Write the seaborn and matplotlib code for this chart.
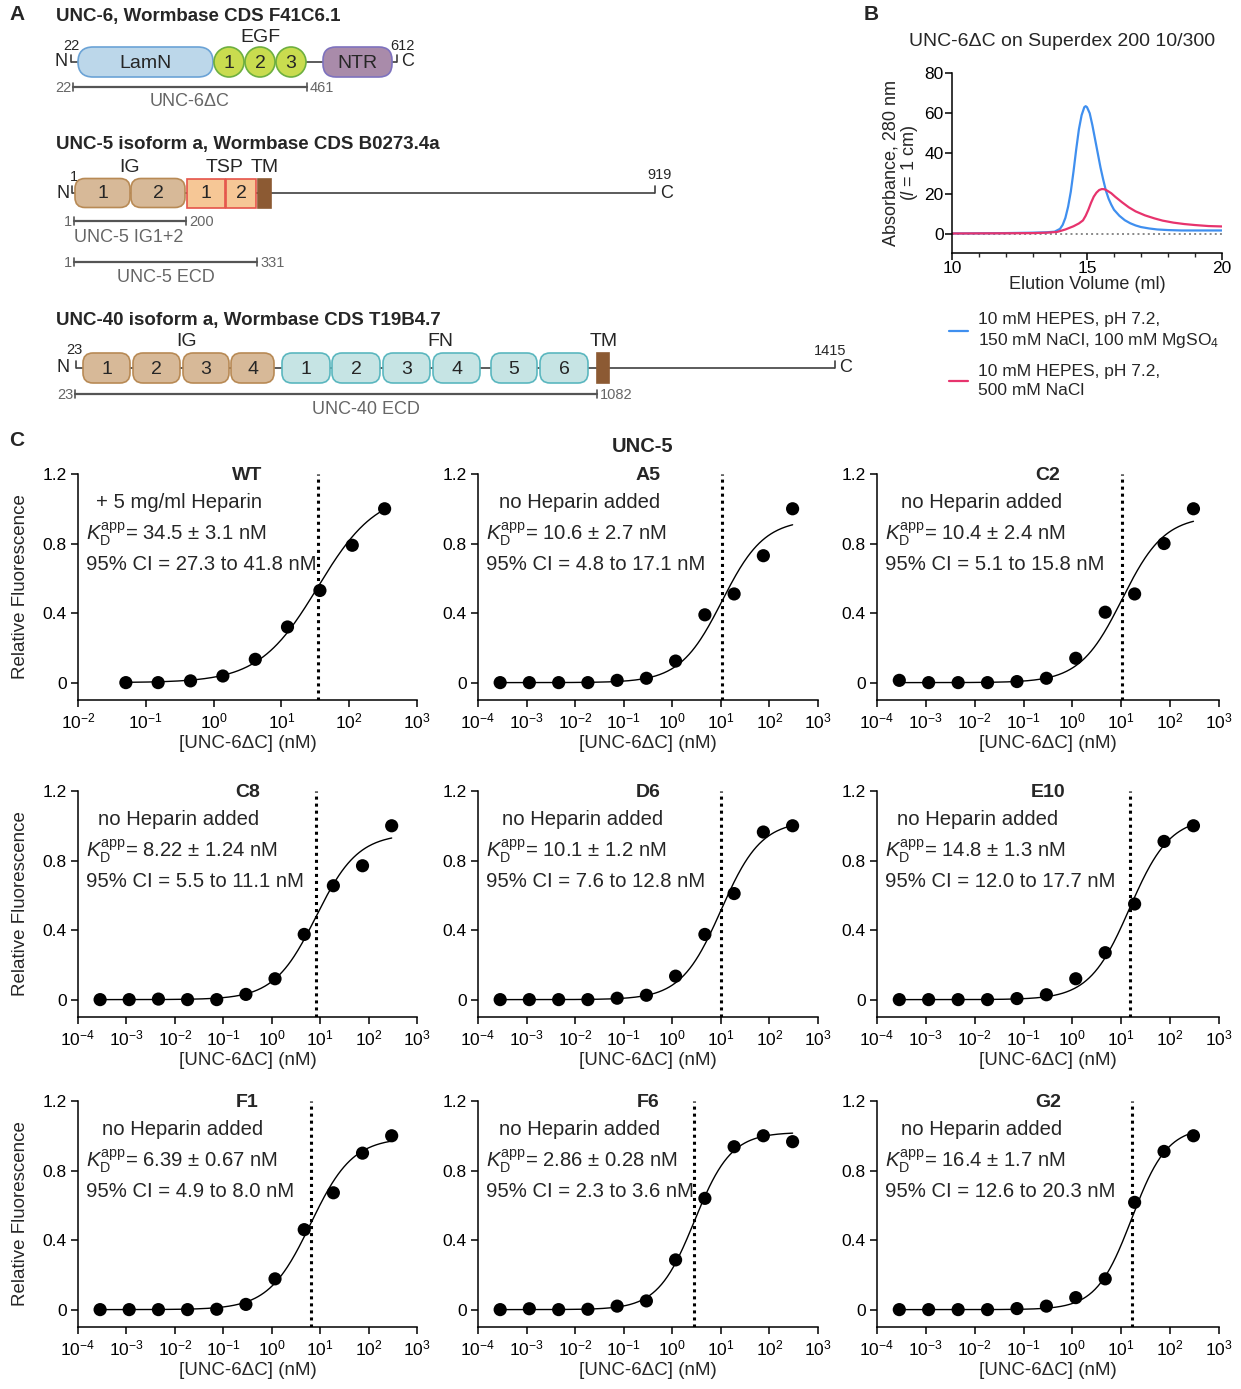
import numpy as np
import pandas as pd
import matplotlib
matplotlib.use('Agg')
import matplotlib.pyplot as plt
import seaborn as sns
from matplotlib.patches import FancyBboxPatch, Circle, Rectangle
from matplotlib.ticker import FixedLocator, NullLocator, FuncFormatter, MultipleLocator

sns.set_theme(style='ticks')
plt.rcParams['font.family'] = ['Liberation Sans', 'DejaVu Sans']
plt.rcParams['mathtext.fontset'] = 'custom'
plt.rcParams['mathtext.rm'] = 'Liberation Sans'
plt.rcParams['mathtext.it'] = 'Liberation Sans:italic'
plt.rcParams['mathtext.bf'] = 'Liberation Sans:bold'
plt.rcParams['axes.unicode_minus'] = False

# ---------------- data: panel B (size exclusion) ----------------
sec_vol_blue = [10.0, 11.0, 12.0, 12.5, 13.0, 13.5, 13.8, 14.0, 14.1, 14.2, 14.3, 14.4, 14.5, 14.6,
                14.7, 14.8, 14.9, 14.95, 15.0, 15.1, 15.2, 15.3, 15.4, 15.5, 15.6, 15.7, 15.8, 15.9,
                16.0, 16.2, 16.4, 16.6, 16.8, 17.0, 17.3, 17.6, 18.0, 18.5, 19.0, 20.0]
sec_abs_blue = [0.2, 0.3, 0.4, 0.5, 0.6, 0.8, 1.1, 2.5, 4.5, 8.0, 13.5, 21.0, 31.0, 42.0,
                52.0, 59.0, 63.0, 63.5, 63.0, 60.0, 54.0, 47.0, 40.0, 33.0, 27.0, 21.5, 17.5, 14.5,
                12.0, 9.0, 6.8, 5.3, 4.2, 3.4, 2.7, 2.2, 1.9, 1.7, 1.7, 1.7]
sec_vol_red = [10.0, 12.0, 13.0, 13.5, 13.9, 14.2, 14.5, 14.7, 14.85, 14.95, 15.05, 15.15, 15.25,
               15.35, 15.45, 15.55, 15.65, 15.75, 15.9, 16.05, 16.3, 16.55, 16.8, 17.15, 17.5,
               17.8, 18.2, 18.6, 19.0, 19.5, 20.0]
sec_abs_red = [0.2, 0.3, 0.4, 0.6, 1.0, 2.2, 3.8, 5.2, 6.7, 9.0, 12.0, 15.5, 18.5,
               20.5, 21.8, 22.3, 22.2, 21.5, 20.2, 18.4, 15.7, 13.2, 11.2, 9.2, 7.7,
               6.6, 5.6, 4.9, 4.4, 3.9, 3.7]
buffer_labels = ['10 mM HEPES, pH 7.2,\n150 mM NaCl, 100 mM MgSO$_4$',
                 '10 mM HEPES, pH 7.2,\n500 mM NaCl']

# ---------------- data: panel C (binding) ----------------
conc_wt = [0.0508, 0.152, 0.457, 1.37, 4.12, 12.3, 37.0, 111.0, 333.0]
conc_mut = [0.000286, 0.00114, 0.00458, 0.0183, 0.0732, 0.293, 1.17, 4.69, 18.75, 75.0, 300.0]
panel_names = ['WT', 'A5', 'C2', 'C8', 'D6', 'E10', 'F1', 'F6', 'G2']
heparin_labels = ['+ 5 mg/ml Heparin'] + ['no Heparin added'] * 8
kd_values = [34.5, 10.6, 10.4, 8.22, 10.1, 14.8, 6.39, 2.86, 16.4]
kd_texts = ['34.5 ± 3.1', '10.6 ± 2.7', '10.4 ± 2.4', '8.22 ± 1.24', '10.1 ± 1.2',
            '14.8 ± 1.3', '6.39 ± 0.67', '2.86 ± 0.28', '16.4 ± 1.7']
ci_texts = ['27.3 to 41.8', '4.8 to 17.1', '5.1 to 15.8', '5.5 to 11.1', '7.6 to 12.8',
            '12.0 to 17.7', '4.9 to 8.0', '2.3 to 3.6', '12.6 to 20.3']
bmax_values = [1.10, 0.94, 0.96, 0.955, 1.03, 1.05, 0.99, 1.02, 1.05]
hill_values = [1.0, 1.0, 1.0, 1.0, 1.05, 1.05, 1.0, 1.15, 1.2]
fluor_wt = [0, 0, 0.01, 0.038, 0.134, 0.32, 0.53, 0.79, 1.0]
fluor_a5 = [0, 0, 0, 0, 0.013, 0.025, 0.124, 0.39, 0.51, 0.73, 1.0]
fluor_c2 = [0.013, 0, 0, 0, 0.006, 0.025, 0.14, 0.405, 0.51, 0.80, 1.0]
fluor_c8 = [0, 0, 0.003, 0, 0, 0.03, 0.12, 0.375, 0.655, 0.77, 1.0]
fluor_d6 = [0, 0, 0, 0, 0.008, 0.025, 0.135, 0.375, 0.61, 0.964, 1.0]
fluor_e10 = [0, 0, 0, 0, 0.006, 0.028, 0.12, 0.27, 0.55, 0.91, 1.0]
fluor_f1 = [0, 0, 0, 0, 0.002, 0.03, 0.177, 0.46, 0.672, 0.90, 1.0]
fluor_f6 = [0, 0.005, 0, 0.002, 0.02, 0.05, 0.286, 0.64, 0.937, 1.0, 0.966]
fluor_g2 = [0, 0, 0, 0, 0.006, 0.02, 0.069, 0.177, 0.617, 0.91, 1.0]
fluor_all = [fluor_wt, fluor_a5, fluor_c2, fluor_c8, fluor_d6, fluor_e10, fluor_f1, fluor_f6, fluor_g2]

# ---------------- figure ----------------
W, H = 1241, 1389
fig = plt.figure(figsize=(W / 100, H / 100), dpi=100)
fig.patch.set_facecolor('white')

# overlay axes in pixel coordinates (panel A diagrams and labels)
ov = fig.add_axes([0, 0, 1, 1], zorder=5)
ov.set_xlim(0, W)
ov.set_ylim(H, 0)
ov.axis('off')
ov.patch.set_visible(False)

GRAY = '#666666'
LINE = '#404040'


def txt(x, y, s, fs=13, ha='left', va='center', **kw):
    ov.text(x, y, s, fontsize=fs, ha=ha, va=va, **kw)


def dom(x0, x1, yc, h, fc, ec, r, label=None, fs=14, lw=1.2):
    p = FancyBboxPatch((x0, yc - h / 2), x1 - x0, h,
                       boxstyle=f'round,pad=0,rounding_size={r}',
                       fc=fc, ec=ec, lw=lw, zorder=3)
    ov.add_patch(p)
    if label:
        ov.text((x0 + x1) / 2, yc + 1, label, fontsize=fs, ha='center', va='center', zorder=4)


def rect(x0, x1, yc, h, fc, ec, label=None, fs=14, lw=1.2):
    ov.add_patch(Rectangle((x0, yc - h / 2), x1 - x0, h, fc=fc, ec=ec, lw=lw, zorder=3))
    if label:
        ov.text((x0 + x1) / 2, yc + 1, label, fontsize=fs, ha='center', va='center', zorder=4)


def backbone(x0, x1, yc):
    ov.plot([x0, x1], [yc, yc], color=LINE, lw=1.2, zorder=2, solid_capstyle='butt')
    ov.plot([x0, x0], [yc - 7, yc], color=LINE, lw=1.2, zorder=2)
    ov.plot([x1, x1], [yc - 7, yc], color=LINE, lw=1.2, zorder=2)


def scalebar(x0, x1, y, left, right, label, label_x, label_y, label_ha='center'):
    ov.plot([x0, x1], [y, y], color='#555555', lw=1.6, zorder=2)
    for xx in (x0, x1):
        ov.plot([xx, xx], [y - 4, y + 4], color='#555555', lw=1.2, zorder=2)
    txt(x0 - 2, y + 1, left, fs=10.5, ha='right', color=GRAY)
    txt(x1 + 3, y + 1, right, fs=10.5, ha='left', color=GRAY)
    txt(label_x, label_y, label, fs=13, ha=label_ha, color=GRAY)


# Panel letters and headers
txt(9, 15, 'A', fs=15, fontweight='bold')
txt(864, 15, 'B', fs=15, fontweight='bold')
txt(9, 440, 'C', fs=15, fontweight='bold')
txt(643, 447, 'UNC-5', fs=14.5, ha='center', fontweight='bold')

# ---- UNC-6 ----
txt(56, 16, 'UNC-6, Wormbase CDS F41C6.1', fs=13.5, fontweight='bold')
y6 = 62
backbone(71, 397, y6)
txt(55, y6, 'N', fs=13)
txt(401, y6, 'C', fs=13)
txt(63, 46, '22', fs=10.5)
txt(390, 46, '612', fs=10.5)
dom(78, 213, y6, 30, '#BCD7EA', '#6BA3D6', 15, 'LamN')
for cx, lab in zip([229, 260, 291], ['1', '2', '3']):
    ov.add_patch(Circle((cx, y6), 15, fc='#C9DC4F', ec='#6DAF3F', lw=1.2, zorder=3))
    ov.text(cx, y6 + 1, lab, fontsize=14, ha='center', va='center', zorder=4)
txt(260, 37, 'EGF', fs=14, ha='center')
dom(323, 392, y6, 30, '#A98BAA', '#7E72BE', 13, 'NTR')
scalebar(73, 307, 87, '22', '461', 'UNC-6ΔC', 190, 101)

# ---- UNC-5 ----
txt(56, 144, 'UNC-5 isoform a, Wormbase CDS B0273.4a', fs=13.5, fontweight='bold')
y5 = 193
backbone(72, 655, y5)
txt(56, y5 + 1, 'N', fs=13)
txt(660, y5 + 1, 'C', fs=13)
txt(70, 177, '1', fs=10.5)
txt(647, 175, '919', fs=10.5)
txt(130, 167, 'IG', fs=14, ha='center')
txt(225, 167, 'TSP', fs=14, ha='center')
txt(265, 167, 'TM', fs=14, ha='center')
dom(75, 130, y5, 29, '#D7B998', '#B88A55', 10, '1')
dom(131, 185, y5, 29, '#D7B998', '#B88A55', 10, '2')
rect(187, 225, y5, 29, '#F6C796', '#E5544A', '1')
rect(226, 256, y5, 29, '#F6C796', '#E5544A', '2')
rect(258, 271, y5, 29, '#8C5A33', '#8C5A33')
scalebar(74, 186, 221, '1', '200', 'UNC-5 IG1+2', 74, 238, label_ha='left')
scalebar(74, 257, 262, '1', '331', 'UNC-5 ECD', 166, 277)

# ---- UNC-40 ----
txt(56, 320, 'UNC-40 isoform a, Wormbase CDS T19B4.7', fs=13.5, fontweight='bold')
y40 = 368
backbone(76, 835, y40)
txt(57, y40, 'N', fs=13)
txt(839, y40, 'C', fs=13)
txt(66, 350, '23', fs=10.5)
txt(814, 351, '1415', fs=10.5)
txt(187, 342, 'IG', fs=14, ha='center')
txt(440, 342, 'FN', fs=14, ha='center')
txt(604, 342, 'TM', fs=14, ha='center')
for (a, b), lab in zip([(83, 130), (133, 180), (183, 229), (231, 274)], ['1', '2', '3', '4']):
    dom(a, b, y40, 30, '#D7B998', '#B88A55', 10, lab)
for (a, b), lab in zip([(282, 330), (332, 380), (383, 430), (433, 480), (491, 537), (540, 588)],
                       ['1', '2', '3', '4', '5', '6']):
    dom(a, b, y40, 30, '#C6E4E4', '#5BB7BF', 10, lab)
rect(597, 609, y40, 30, '#8C5A33', '#8C5A33')
scalebar(75, 597, 394, '23', '1082', 'UNC-40 ECD', 366, 410)

# ---------------- Panel B ----------------
axb = fig.add_axes([952 / W, 1 - 253 / H, 270 / W, 180 / H])
df_blue = pd.DataFrame({'vol': sec_vol_blue, 'abs': sec_abs_blue})
df_red = pd.DataFrame({'vol': sec_vol_red, 'abs': sec_abs_red})
axb.axhline(0, color='#888888', ls=':', lw=1.4, zorder=1)
sns.lineplot(data=df_blue, x='vol', y='abs', ax=axb, color='#3F8FEF', lw=1.6,
             estimator=None, sort=False, label=buffer_labels[0])
sns.lineplot(data=df_red, x='vol', y='abs', ax=axb, color='#E7336D', lw=1.6,
             estimator=None, sort=False, label=buffer_labels[1])
axb.set_xlim(10, 20)
axb.set_ylim(-9.5, 80)
axb.set_xticks([10, 15, 20])
axb.xaxis.set_minor_locator(MultipleLocator(1))
axb.set_yticks([0, 20, 40, 60, 80])
axb.tick_params(axis='both', which='major', labelsize=12.5, length=5, width=1.1, colors='black', pad=1)
axb.tick_params(axis='x', which='minor', length=3, width=1.0)
axb.set_xlabel('Elution Volume (ml)', fontsize=13, labelpad=0)
axb.set_ylabel('Absorbance, 280 nm\n($\\mathit{l}$ = 1 cm)', fontsize=13, labelpad=3, linespacing=1.0)
for s in ['left', 'bottom']:
    axb.spines[s].set_linewidth(1.1)
    axb.spines[s].set_color('black')
sns.despine(ax=axb)
handles, labels = axb.get_legend_handles_labels()
leg = axb.legend(handles, labels, loc='upper left', bbox_to_anchor=(949 / W, 1 - 312 / H),
                 bbox_transform=fig.transFigure, frameon=False, fontsize=12.5,
                 handlelength=1.1, handletextpad=0.55, labelspacing=0.8, borderpad=0, borderaxespad=0)
for t in leg.get_texts():
    t.set_linespacing(1.3)
ov.text(1062, 42, 'UNC-6ΔC on Superdex 200 10/300', fontsize=14, ha='center', va='center')

# ---------------- Panel C ----------------
col_left = [78, 478, 877]
col_width = [339, 340, 342]
row_top = [474, 791, 1101]
row_h = 226
head_dx = [0.053, 0.062, 0.07, 0.059, 0.07, 0.058, 0.07, 0.062, 0.07]

for i, name in enumerate(panel_names):
    r, c = divmod(i, 3)
    ax = fig.add_axes([col_left[c] / W, 1 - (row_top[r] + row_h) / H, col_width[c] / W, row_h / H])
    conc = conc_wt if i == 0 else conc_mut
    xmin_exp = -2 if i == 0 else -4
    y = fluor_all[i]
    # fitted binding curve from the reported parameters
    xs = np.logspace(np.log10(conc[0]), np.log10(conc[-1]), 300)
    n = hill_values[i]
    ys = bmax_values[i] * xs ** n / (kd_values[i] ** n + xs ** n)
    sns.lineplot(x=xs, y=ys, ax=ax, color='black', lw=1.0, estimator=None)
    sns.scatterplot(x=conc, y=y, ax=ax, color='black', s=90, edgecolor='none', zorder=4)
    ax.plot([kd_values[i], kd_values[i]], [-0.1, 1.2], color='black', ls=(0, (1, 1.3)), lw=2.2, zorder=3)
    ax.set_xscale('log')
    ax.set_xlim(10.0 ** xmin_exp, 1e3)
    ax.set_ylim(-0.1, 1.2)
    ax.xaxis.set_major_locator(FixedLocator([10.0 ** e for e in range(xmin_exp, 4)]))
    ax.xaxis.set_minor_locator(NullLocator())
    ax.xaxis.set_major_formatter(FuncFormatter(lambda v, p: r'$\mathregular{10^{%d}}$' % int(round(np.log10(v)))))
    ax.set_yticks([0, 0.4, 0.8, 1.2])
    ax.set_yticklabels(['0', '0.4', '0.8', '1.2'])
    ax.tick_params(axis='both', labelsize=12.5, length=5, width=1.1, colors='black', pad=3)
    for s in ['left', 'bottom']:
        ax.spines[s].set_linewidth(1.1)
        ax.spines[s].set_color('black')
    sns.despine(ax=ax)
    ax.set_xlabel('[UNC-6ΔC] (nM)', fontsize=13.5, labelpad=3)
    if c == 0:
        ax.set_ylabel('Relative Fluorescence', fontsize=13.5, labelpad=10)
    else:
        ax.set_ylabel('')
    ax.text(0.5, 0.995, name, transform=ax.transAxes, ha='center', va='center',
            fontsize=14, fontweight='bold')
    ax.text(head_dx[i], 0.875, heparin_labels[i], transform=ax.transAxes,
            ha='left', va='center', fontsize=14.6)
    ax.text(0.024, 0.735, r'$\mathit{K}_{\mathrm{D}}^{\mathrm{app}}$= ' + kd_texts[i] + ' nM',
            transform=ax.transAxes, ha='left', va='center', fontsize=14.6)
    ax.text(0.024, 0.60, '95% CI = ' + ci_texts[i] + ' nM', transform=ax.transAxes,
            ha='left', va='center', fontsize=14.6)

fig.savefig('out.png', dpi=100, facecolor='white')
